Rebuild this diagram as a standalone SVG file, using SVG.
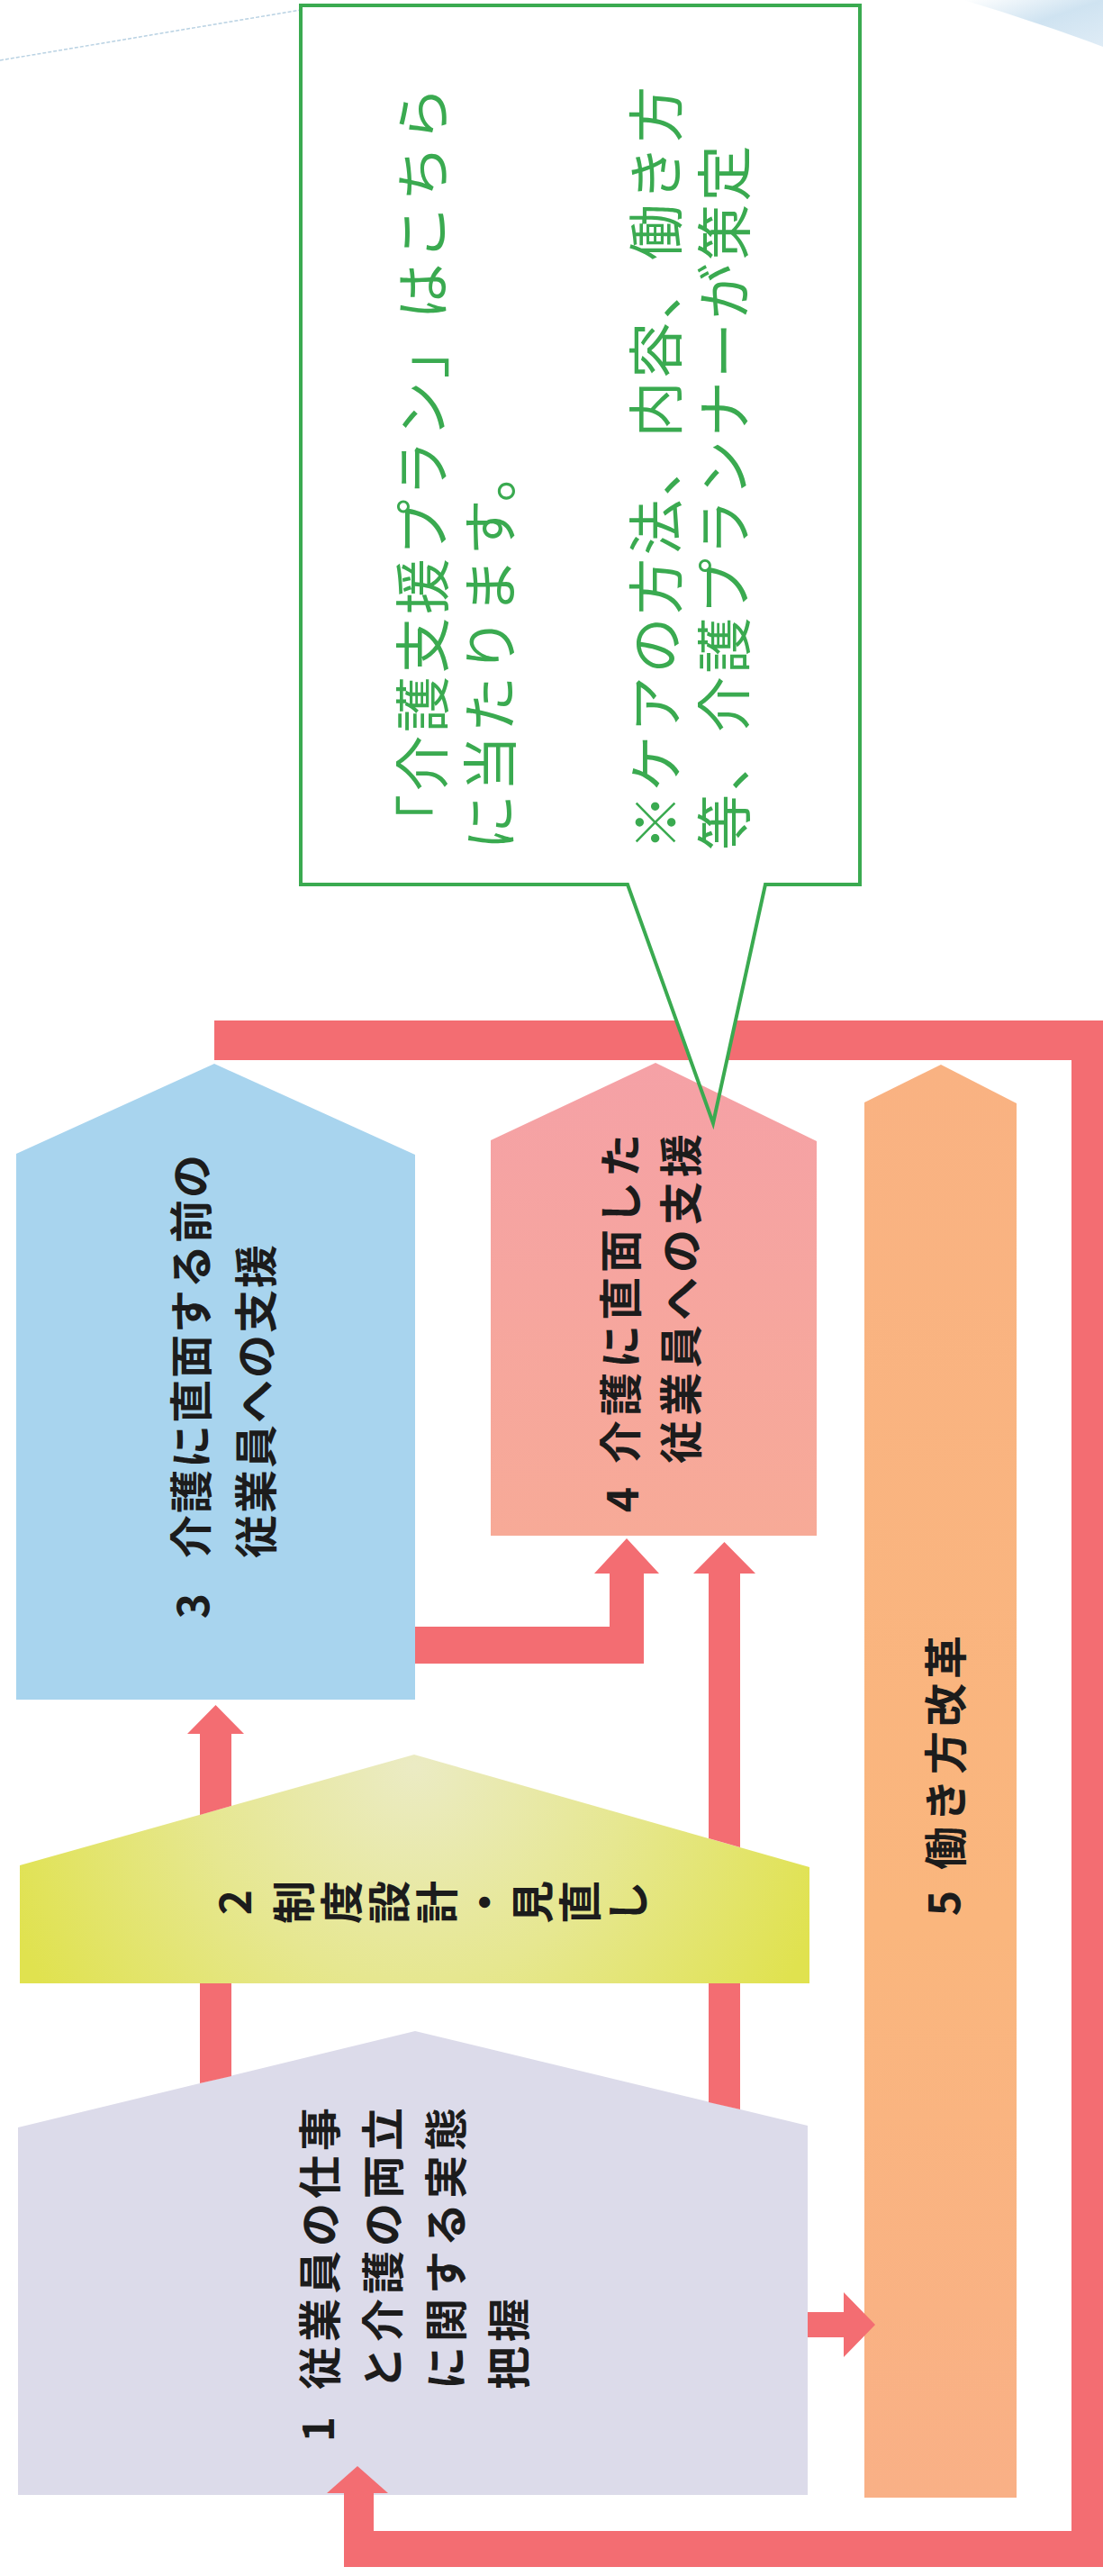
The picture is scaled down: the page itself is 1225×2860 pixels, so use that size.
<svg xmlns="http://www.w3.org/2000/svg" width="1225" height="2860" viewBox="0 0 1225 2860">
<defs>
<style>
.lbl{font-family:"Noto Sans CJK JP","Noto Sans CJK SC",sans-serif;font-weight:700;font-size:48px;fill:#1c1c1c;dominant-baseline:central;letter-spacing:4px}
.num{font-family:"Noto Sans CJK JP","Noto Sans CJK SC",sans-serif;font-weight:700;font-size:48px;fill:#1c1c1c;dominant-baseline:central;text-anchor:middle}
.note{font-family:"Noto Sans CJK JP","Noto Sans CJK SC",sans-serif;font-weight:400;font-size:62px;fill:#3aaa50;dominant-baseline:central;letter-spacing:3.5px}
.conn{fill:#f36d72}
</style>
<radialGradient id="gYellow" gradientUnits="userSpaceOnUse" cx="460" cy="1960" r="480">
<stop offset="0" stop-color="#ebebc4"/>
<stop offset="0.5" stop-color="#e6e790"/>
<stop offset="1" stop-color="#e0e24f"/>
</radialGradient>
<linearGradient id="gPink" x1="0" y1="0" x2="0" y2="1">
<stop offset="0" stop-color="#f5a1a6"/>
<stop offset="1" stop-color="#f7aa97"/>
</linearGradient>
<linearGradient id="gOrange" x1="0" y1="0" x2="0" y2="1">
<stop offset="0" stop-color="#f9b282"/>
<stop offset="0.6" stop-color="#fab67d"/>
<stop offset="1" stop-color="#f9b086"/>
</linearGradient>
<linearGradient id="gSky" x1="0" y1="0" x2="1" y2="1">
<stop offset="0" stop-color="#ffffff"/>
<stop offset="0.5" stop-color="#cfe3f1"/>
<stop offset="1" stop-color="#dfecf6"/>
</linearGradient>
</defs>
<rect width="1225" height="2860" fill="#ffffff"/>
<line x1="0" y1="67" x2="334" y2="11" stroke="#b9d2e3" stroke-width="1.5" stroke-dasharray="4 2"/>
<path d="M1070,0 C1130,18 1180,35 1225,52 L1225,0 Z" fill="url(#gSky)"/>

<g id="node1">
<polygon points="20,2770 20,2362 461,2255 897,2360 897,2770" fill="#dcdbea"/>
<text class="num" transform="translate(350,2697) rotate(-90)">1</text>
<text class="lbl" transform="translate(352,2653) rotate(-90)" style="letter-spacing:5px">従業員の仕事</text>
<text class="lbl" transform="translate(422,2653) rotate(-90)" style="letter-spacing:5px">と介護の両立</text>
<text class="lbl" transform="translate(492,2653) rotate(-90)" style="letter-spacing:5px">に関する実態</text>
<text class="lbl" transform="translate(562,2653) rotate(-90)" style="letter-spacing:5px">把握</text>
</g>
<g id="node2">
<polygon points="22,2202 22,2071 460,1948 899,2073 899,2202" fill="url(#gYellow)"/>
<text class="num" transform="translate(258,2112) rotate(-90)">2</text>
<g transform="translate(302,2112) rotate(-90)">
<text class="lbl" x="0" y="0" style="writing-mode:vertical-rl;letter-spacing:5px">制度設計・見直し</text>
</g>
</g>
<g id="node3">
<polygon points="18,1887 18,1281 238,1181 461,1282 461,1887" fill="#a8d4ee"/>
<text class="num" transform="translate(211,1783) rotate(-90)">3</text>
<text class="lbl" transform="translate(209,1730) rotate(-90)" style="letter-spacing:2px">介護に直面する前の</text>
<text class="lbl" transform="translate(281,1730) rotate(-90)" style="letter-spacing:2px">従業員への支援</text>
</g>
<g id="node4">
<polygon points="545,1705 545,1266 728,1180 907,1267 907,1705" fill="url(#gPink)"/>
<text class="num" transform="translate(688,1665) rotate(-90)">4</text>
<text class="lbl" transform="translate(686,1625) rotate(-90)" style="letter-spacing:5px">介護に直面した</text>
<text class="lbl" transform="translate(753,1625) rotate(-90)" style="letter-spacing:5px">従業員への支援</text>
</g>
<g id="node5">
<polygon points="960,2773 960,1224 1045,1182 1129,1225 1129,2773" fill="url(#gOrange)"/>
<text class="num" transform="translate(1045,2113) rotate(-90)">5</text>
<text class="lbl" transform="translate(1047,2076) rotate(-90)" style="letter-spacing:5px">働き方改革</text>
</g>

<g id="connectors">
<polygon class="conn" points="222,2202 257,2202 257,2305 222,2313"/>
<polygon class="conn" points="222,2015 222,1925 208,1925 239.5,1893 271,1925 257,1925 257,2005"/>
<polygon class="conn" points="787,2202 822,2202 822,2342 787,2334"/>
<polygon class="conn" points="787,2041 787,1747 770,1747 804.5,1712 839,1747 822,1747 822,2051"/>
<polygon class="conn" points="461,1806 677,1806 677,1747 660,1747 696,1708 732,1747 715,1747 715,1847 461,1847"/>
<polygon class="conn" points="897,2567 937,2567 937,2545 972,2581 937,2617 937,2595 897,2595"/>
<polygon class="conn" points="238,1133 1225,1133 1225,2850 382,2850 382,2768 363,2768 397,2738 431,2768 415,2768 415,2810 1190,2810 1190,1177 238,1177"/>
</g>

<g id="callout">
<path d="M334,6 H955 V982 H850 L807,1180 H768 L697,982 H334 Z" fill="#ffffff"/>
<path d="M334,6 H955 V982 H850 L792,1247 L697,982 H334 Z" fill="none" stroke="#3aaa50" stroke-width="4"/>
<text class="note" transform="translate(466,944) rotate(-90)">「介護支援プラン」はこちら</text>
<text class="note" transform="translate(541,944) rotate(-90)">に当たります。</text>
<text class="note" transform="translate(725,944) rotate(-90)">※ケアの方法、内容、働き方</text>
<text class="note" transform="translate(801,944) rotate(-90)">等、介護プランナーが策定</text>
</g>
</svg>
